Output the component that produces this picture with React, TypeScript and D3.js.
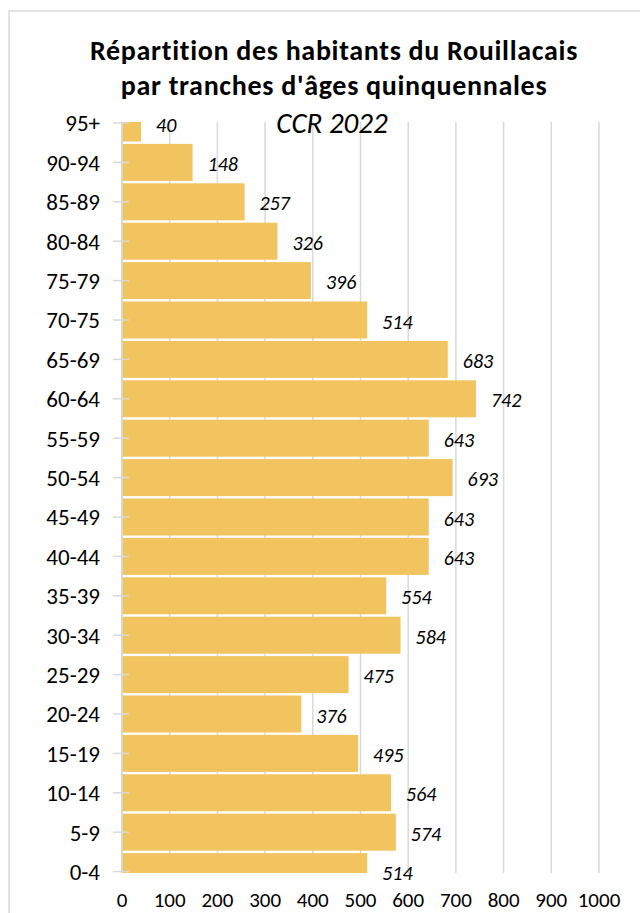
import React from "react";
import * as d3 from "d3";

const categories = ["0-4","5-9","10-14","15-19","20-24","25-29","30-34","35-39","40-44","45-49","50-54","55-59","60-64","65-69","70-75","75-79","80-84","85-89","90-94","95+"];
const values = [514,574,564,495,376,475,584,554,643,643,693,643,742,683,514,396,326,257,148,40];
const xTicks = [0,100,200,300,400,500,600,700,800,900,1000];
const titleLines = ["Répartition des habitants du Rouillacais", "par tranches d'âges quinquennales"];
const subtitle = "CCR 2022";

const W = 640, H = 913;
const FONT = "Carlito, Calibri, Lato, 'Open Sans', sans-serif";

export default function App() {
  const plotTop = 122, plotBottom = 873, plotLeft = 121.5, plotRight = 600;
  const x = d3.scaleLinear().domain([0, 1000]).range([122, 599]);
  const y = d3.scalePoint<string>().domain(categories).range([871.6, 123]);
  const step = y.step();
  const barH = step - 2.4;
  const grid = "#d9d9d9";

  return (
    <svg width={W} height={H} style={{ position: "absolute", left: 0, top: 0, fontVariantLigatures: "none" }} fontFamily={FONT}>
      <defs>
        <clipPath id="plotclip">
          <rect x={plotLeft} y={plotTop} width={plotRight - plotLeft} height={plotBottom - plotTop} />
        </clipPath>
      </defs>
      <rect x={0} y={0} width={W} height={H} fill="#fff" />
      <rect x={9} y={11} width={W + 10} height={H + 10} fill="none" stroke={grid} strokeWidth={1.5} />
      {titleLines.map((t, i) => (
        <text key={t} x={334} y={60 + i * 35} textAnchor="middle" fontWeight="bold" fontSize={28} letterSpacing={0.7} fill="#000">{t}</text>
      ))}
      {xTicks.map((t) => (
        <line key={"g" + t} x1={x(t)} x2={x(t)} y1={plotTop} y2={plotBottom} stroke={grid} strokeWidth={t === 0 ? 2 : 1.5} />
      ))}
      <g clipPath="url(#plotclip)">
        {categories.map((c, i) => (
          <rect key={"b" + c} x={x(0) + 0.8} y={(y(c) as number) - barH / 2} width={x(values[i]) - x(0) - 0.8} height={barH} fill="#F2C45F" />
        ))}
      </g>
      {categories.map((c) => (
        <line key={"t" + c} x1={113} x2={129} y1={y(c)} y2={y(c)} stroke={grid} strokeWidth={1.5} />
      ))}
      <text x={332} y={133} textAnchor="middle" fontStyle="italic" fontSize={29} fill="#000">{subtitle}</text>
      {categories.map((c, i) => (
        <text key={"v" + c} x={x(values[i]) + 15} y={(y(c) as number) + 8.5} fontStyle="italic" fontSize={20} fill="#000">{values[i]}</text>
      ))}
      {categories.map((c) => (
        <text key={"l" + c} x={100} y={(y(c) as number) + 8.3} textAnchor="end" fontSize={23} fill="#000">{c}</text>
      ))}
      {xTicks.map((t) => (
        <text key={"x" + t} x={x(t)} y={907} textAnchor="middle" fontSize={21} fill="#000">{t}</text>
      ))}
    </svg>
  );
}
